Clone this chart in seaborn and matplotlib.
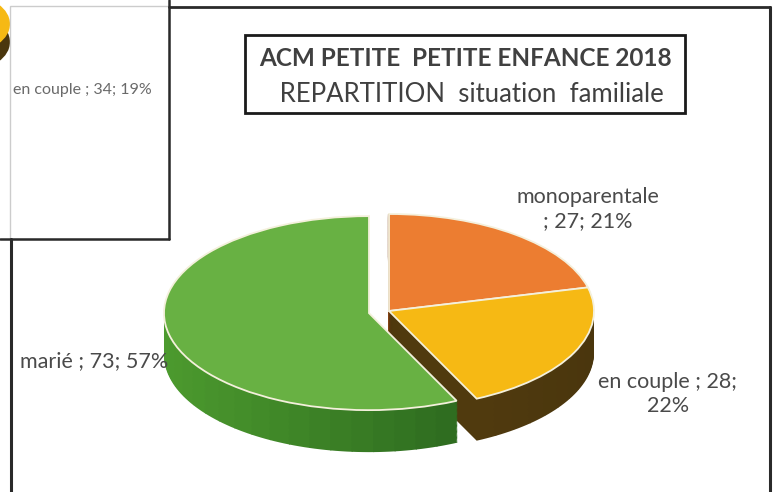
import numpy as np
import matplotlib.pyplot as plt
import seaborn as sns
from matplotlib.colors import to_rgb
from matplotlib.patches import Rectangle, Ellipse, Wedge
from matplotlib.lines import Line2D

# data
categories = ['monoparentale', 'en couple', 'marié']
counts = [27, 28, 73]
percents = [21, 22, 57]
label_texts = ['monoparentale\n; 27; 21%', 'en couple ; 28;\n22%', 'marié ; 73; 57%']
title_line1 = 'ACM PETITE  PETITE ENFANCE 2018'
title_line2 = ' REPARTITION  situation  familiale'
inset_label = 'en couple ; 34; 19%'

top_colors = ['#ec7d31', '#f6b914', '#68b143']
side_light = ['#9a4e18', '#5f4511', '#4c9a2e']
side_dark = ['#6e3710', '#4a360d', '#22591a']
explode = [0, 0, 0.1]

sns.set_theme(style='white')
plt.rcParams['font.family'] = ['Lato', 'DejaVu Sans']

W, H = 777, 492
fig = plt.figure(figsize=(W / 100, H / 100), dpi=100)
fig.patch.set_facecolor('white')

# pie axes: one x unit = rx px, one y unit = ry px (flattened => 3D look)
cx, cy, rx, ry = 389, 311, 205, 97
ax = fig.add_axes([0, 0, 1, 1])
depth = 42 / ry

# side walls: stacked layers, shaded from left (light) to right (dark)
fracs = np.array(counts) / sum(counts)
starts = 90 - 360 * np.concatenate([[0], np.cumsum(fracs)[:-1]])
for d in np.linspace(depth, 0, 36):
    for i, f in enumerate(fracs):
        t1 = starts[i] - 360 * f
        t2 = starts[i]
        mid = np.deg2rad((t1 + t2) / 2)
        ox = explode[i] * np.cos(mid)
        oy = explode[i] * np.sin(mid) - d
        n = max(2, int(f * 60))
        edges = np.linspace(t1, t2, n + 1)
        for a, b in zip(edges[:-1], edges[1:]):
            w = (np.cos(np.deg2rad((a + b) / 2)) + 1) / 2
            col = np.array(to_rgb(side_light[i])) * (1 - w) + np.array(to_rgb(side_dark[i])) * w
            ax.add_patch(Wedge((ox, oy), 1, a, b + 0.3, facecolor=col, linewidth=0))

# top faces
wedges, _ = ax.pie(counts, explode=explode, startangle=90, counterclock=False,
                   colors=top_colors,
                   wedgeprops=dict(edgecolor='#f4f0dc', linewidth=1.3))
ax.set_aspect('auto')
ax.set_xlim(-cx / rx, (W - cx) / rx)
ax.set_ylim((cy - H) / ry, cy / ry)
ax.axis('off')

# data labels
label_pos = [(588, 209), (668, 394), (20, 361)]
label_ha = ['center', 'center', 'left']
for txt, (x, y), ha in zip(label_texts, label_pos, label_ha):
    fig.text(x / W, 1 - y / H, txt, ha=ha, va='center', fontsize=15.5,
             color='#4a4a4a', linespacing=1.2)

# overlay for frame, title box and the clipped inset window
ov = fig.add_axes([0, 0, 1, 1], zorder=5)
ov.set_xlim(0, W)
ov.set_ylim(H, 0)
ov.axis('off')
ov.patch.set_alpha(0)

ov.add_patch(Rectangle((245, 35), 440, 78, facecolor='white', edgecolor='#1a1a1a', linewidth=2))
ov.text(465, 58, title_line1, ha='center', va='center', fontsize=17.5,
        fontweight='bold', color='#404040')
ov.text(468, 95, title_line2, ha='center', va='center', fontsize=18.5,
        color='#404040')

# main chart frame
ov.add_line(Line2D([169, 770], [7, 7], color='#2a2a2a', linewidth=2))
ov.add_line(Line2D([770, 770], [7, H], color='#2a2a2a', linewidth=2.2))
ov.add_line(Line2D([11, 11], [239, H], color='#2a2a2a', linewidth=2.2))

# inset window
ov.add_patch(Ellipse((-30, 42), 80, 56, facecolor='#4a360d', linewidth=0))
ov.add_patch(Ellipse((-30, 24), 80, 56, facecolor='#f6b914', linewidth=0))
ov.add_patch(Rectangle((10, 6), 159, 233, facecolor='white', edgecolor='#cccccc', linewidth=1))
ov.add_line(Line2D([169, 169], [0, 239], color='#2a2a2a', linewidth=1.8))
ov.add_line(Line2D([0, 169], [239, 239], color='#2a2a2a', linewidth=1.8))
ov.text(13, 90, inset_label, ha='left', va='center', fontsize=11.5, color='#6a6a6a')

fig.savefig('out.png', dpi=100)
